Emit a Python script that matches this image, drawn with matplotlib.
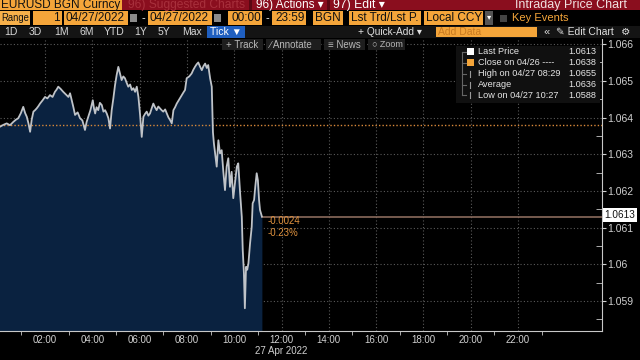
import matplotlib
matplotlib.use("Agg")
import matplotlib.pyplot as plt
from matplotlib.patches import Rectangle
from matplotlib.ticker import FixedLocator, MultipleLocator

plt.rcParams['font.family'] = ['Liberation Sans', 'DejaVu Sans']

# ---------------- data ----------------
times_h = [0.00, 0.10, 0.24, 0.38, 0.52, 0.66, 0.77, 0.87, 0.98, 1.08, 1.16, 1.23, 1.30,
           1.37, 1.44, 1.51, 1.58, 1.65, 1.72, 1.79, 1.90, 2.00, 2.10, 2.21, 2.32, 2.42,
           2.49, 2.56, 2.66, 2.77, 2.88, 2.99, 3.06, 3.13, 3.20, 3.27, 3.38, 3.48, 3.58,
           3.69, 3.76, 3.83, 3.92, 4.02, 4.07, 4.12, 4.18, 4.25, 4.32, 4.40, 4.47, 4.54,
           4.61, 4.68, 4.75, 4.82, 4.89, 4.96, 5.03, 5.10, 5.17, 5.24, 5.31, 5.38, 5.45,
           5.52, 5.60, 5.67, 5.74, 5.81, 5.88, 5.95, 6.02, 6.09, 6.16, 6.23, 6.30, 6.37,
           6.44, 6.51, 6.58, 6.65, 6.72, 6.79, 6.86, 6.93, 7.00, 7.08, 7.15, 7.22, 7.29,
           7.36, 7.43, 7.50, 7.57, 7.68, 7.78, 7.85, 7.92, 7.99, 8.10, 8.20, 8.27, 8.34,
           8.41, 8.48, 8.56, 8.63, 8.70, 8.77, 8.84, 8.90, 8.98, 9.05, 9.10, 9.14, 9.19,
           9.26, 9.33, 9.40, 9.47, 9.54, 9.61, 9.68, 9.75, 9.82, 9.89, 9.96, 10.03, 10.11,
           10.17, 10.25, 10.32, 10.36, 10.41, 10.45, 10.50, 10.55, 10.60, 10.67, 10.74,
           10.78, 10.84, 10.89, 10.95, 11.00, 11.05, 11.09, 11.13, 11.17]
prices = [1.06372, 1.06375, 1.06380, 1.06384, 1.06379, 1.06388, 1.06394, 1.06398, 1.06412,
          1.06429, 1.06412, 1.06402, 1.06384, 1.06361, 1.06395, 1.06416, 1.06420, 1.06425,
          1.06431, 1.06438, 1.06447, 1.06456, 1.06452, 1.06461, 1.06456, 1.06470, 1.06476,
          1.06484, 1.06478, 1.06470, 1.06463, 1.06456, 1.06466, 1.06447, 1.06428, 1.06407,
          1.06414, 1.06398, 1.06392, 1.06366, 1.06388, 1.06402, 1.06420, 1.06447, 1.06425,
          1.06411, 1.06428, 1.06420, 1.06440, 1.06434, 1.06416, 1.06420, 1.06411, 1.06398,
          1.06370, 1.06420, 1.06452, 1.06488, 1.06516, 1.06538, 1.06520, 1.06502, 1.06512,
          1.06507, 1.06495, 1.06484, 1.06490, 1.06475, 1.06480, 1.06470, 1.06484, 1.06456,
          1.06407, 1.06347, 1.06402, 1.06410, 1.06416, 1.06405, 1.06411, 1.06425, 1.06438,
          1.06428, 1.06420, 1.06430, 1.06425, 1.06420, 1.06416, 1.06422, 1.06411, 1.06400,
          1.06393, 1.06384, 1.06420, 1.06428, 1.06438, 1.06450, 1.06461, 1.06468, 1.06475,
          1.06507, 1.06512, 1.06520, 1.06530, 1.06538, 1.06545, 1.06550, 1.06538, 1.06529,
          1.06540, 1.06547, 1.06535, 1.06543, 1.06507, 1.06484, 1.06360, 1.06330, 1.06303,
          1.06266, 1.06338, 1.06302, 1.06311, 1.06252, 1.06202, 1.06266, 1.06289, 1.06211,
          1.06252, 1.06180, 1.06220, 1.06266, 1.06275, 1.06193, 1.06129, 1.06039, 1.05976,
          1.05880, 1.05993, 1.05985, 1.06002, 1.06057, 1.06102, 1.06166, 1.06175, 1.06211,
          1.06248, 1.06229, 1.06175, 1.06148, 1.06139, 1.06130]

prev_close = 1.0638
last_price = 1.0613
net_change = "-0.0024"
pct_change = "-0.23%"
x_tick_hours = [2, 4, 6, 8, 10, 12, 14, 16, 18, 20, 22]
x_tick_labels = ["02:00", "04:00", "06:00", "08:00", "10:00", "12:00", "14:00",
                 "16:00", "18:00", "20:00", "22:00"]
y_ticks = [1.059, 1.060, 1.061, 1.062, 1.063, 1.064, 1.065, 1.066]
y_tick_labels = ["1.059", "1.06", "1.061", "1.062", "1.063", "1.064", "1.065", "1.066"]
legend_names = ["Last Price", "Close on 04/26 ----", "High on 04/27 08:29", "Average",
                "Low on 04/27 10:27"]
legend_values = ["1.0613", "1.0638", "1.0655", "1.0636", "1.0588"]

# ---------------- figure ----------------
W, H = 640, 360
fig = plt.figure(figsize=(6.4, 3.6), dpi=100, facecolor='black')
renderer = fig.canvas.get_renderer()

ax = fig.add_axes([0, 1 - 331 / H, 602 / W, (331 - 39) / H])
ax.set_facecolor('black')
ax.set_xlim(0.097, 25.55)
ax.set_ylim(1.05818, 1.06614)

grid_c = '#5a5a5a'
for yv in y_ticks:
    ax.axhline(yv, color=grid_c, lw=0.8, ls=(0, (1, 2)), zorder=1)
for xv in x_tick_hours:
    ax.axvline(xv, color=grid_c, lw=0.8, ls=(0, (1, 2)), zorder=1)

ax.fill_between(times_h, prices, 1.05818, color='#0a2240', zorder=2, lw=0)
ax.plot(times_h, prices, color='#bfc3c8', lw=1.3, zorder=4)
ax.axhline(prev_close, color='#d9893a', lw=1.0, ls=(0, (1, 1.5)), zorder=3)
ax.plot([times_h[-1], 25.55], [last_price, last_price], color='#8a6a5c', lw=1.2, zorder=3)

ax.text(times_h[-1] + 0.25, last_price - 0.00012, net_change, color='#e0923e',
        fontsize=7, va='center', ha='left', zorder=5)
ax.text(times_h[-1] + 0.25, last_price - 0.00046, pct_change, color='#e0923e',
        fontsize=7, va='center', ha='left', zorder=5)

for s in ['top', 'left']:
    ax.spines[s].set_visible(False)
ax.spines['right'].set_color('#c8c8c8')
ax.spines['bottom'].set_color('#c8c8c8')

ax.yaxis.tick_right()
ax.set_yticks(y_ticks)
ax.set_yticklabels(y_tick_labels)
ax.yaxis.set_minor_locator(MultipleLocator(0.0005))
ax.tick_params(axis='y', which='major', direction='out', length=3, colors='#d0d0d0',
               labelsize=7.5, pad=1)
ax.tick_params(axis='y', which='minor', direction='in', length=4, colors='#c8c8c8')

ax.set_xticks(x_tick_hours)
ax.set_xticklabels(x_tick_labels)
ax.xaxis.set_minor_locator(FixedLocator([1, 3, 5, 7, 9, 11, 13, 15, 17, 19, 21, 23]))
ax.tick_params(axis='x', which='major', length=0, colors='#d0d0d0', labelsize=7, pad=3)
ax.tick_params(axis='x', which='minor', direction='out', length=3, colors='#c8c8c8')
ax.text(12, -0.052, "27 Apr 2022", transform=ax.get_xaxis_transform(), color='#d0d0d0',
        fontsize=7, ha='center', va='top')

# ---------------- overlay (terminal UI) in pixel coordinates ----------------
ov = fig.add_axes([0, 0, 1, 1], zorder=10)
ov.set_xlim(0, W)
ov.set_ylim(H, 0)
ov.axis('off')
ov.patch.set_alpha(0)

ORANGE = '#f4a53a'
RED = '#8a0e1e'


def box(x0, x1, y0, y1, color, **kw):
    ov.add_patch(Rectangle((x0, y0), x1 - x0, y1 - y0, facecolor=color, lw=0, **kw))


def txt(x, y, s, color, size, ha='left', maxw=None, **kw):
    t = ov.text(x, y, s, color=color, fontsize=size, ha=ha, va='center', **kw)
    if maxw is not None:
        w = t.get_window_extent(renderer=renderer).width
        if w > maxw:
            t.set_fontsize(size * maxw / w)
    return t


# row 1
box(0, 640, 0, 10, RED)
box(0, 122, 0, 10, ORANGE)
box(249, 252, 0, 10, '#5a0712')
box(327, 330, 0, 10, '#5a0712')
txt(1, 4.8, "EURUSD BGN Curncy", '#111111', 9, maxw=119)
txt(128, 4.8, "96) Suggested Charts", '#a8303c', 9, maxw=118)
txt(256, 4.8, "96) Actions \u25be", 'white', 9, maxw=68)
txt(333, 4.8, "97) Edit \u25be", 'white', 9, maxw=52)
txt(627, 4.8, "Intraday Price Chart", '#f0e0e0', 9, ha='right', maxw=122)

# row 2
r2a, r2b = 11, 25
box(0, 30, r2a, r2b, '#f7b04a')
txt(1, 18, "Range", '#111111', 8.5, maxw=28)
box(33, 62, r2a, r2b, ORANGE)
txt(60, 18, "1", '#111111', 8.5, ha='right')
box(64, 128, r2a, r2b, ORANGE)
txt(66, 18, "04/27/2022", '#111111', 8.5, maxw=61)
box(130, 137, 14, 22, '#8a8a8a')
txt(142, 18, "-", 'white', 8)
box(148, 212, r2a, r2b, ORANGE)
txt(150, 18, "04/27/2022", '#111111', 8.5, maxw=61)
box(214, 221, 14, 22, '#8a8a8a')
box(228, 262, r2a, r2b, ORANGE)
txt(231, 18, "00:00", '#111111', 8.5, maxw=30)
txt(265, 18, "-", 'white', 8)
box(272, 306, r2a, r2b, ORANGE)
txt(275, 18, "23:59", '#111111', 8.5, maxw=30)
box(313, 343, r2a, r2b, ORANGE)
txt(315, 18, "BGN", '#111111', 8.5, maxw=26)
box(349, 421, r2a, r2b, ORANGE)
txt(351, 18, "Lst Trd/Lst P.", '#111111', 8.5, maxw=69)
box(424, 483, r2a, r2b, ORANGE)
txt(426, 18, "Local CCY", '#111111', 8.5, maxw=56)
box(485, 493, r2a, r2b, '#555555')
txt(489, 18, "\u25be", 'white', 6, ha='center')
box(500, 507, 14.5, 21.5, '#444444')
txt(512, 18, "Key Events", ORANGE, 8.5, maxw=56)

# row 3
box(0, 640, 26, 38, '#141414')
for lx, lab in zip([4, 29, 54, 79, 104, 134, 158, 182],
                   ["1D", "3D", "1M", "6M", "YTD", "1Y", "5Y", "Max"]):
    txt(lx, 31.8, lab, '#d8d8d8', 7.5)
box(207, 245, 26, 38, '#1f5fc0')
txt(210, 31.8, "Tick \u25bc", 'white', 7.5, maxw=33)
txt(358, 31.8, "+ Quick-Add \u25be", '#e0e0e0', 7.5, maxw=64)
box(436, 537, 27, 37, ORANGE)
txt(438, 31.8, "Add Data", '#c87a20', 7.5)
txt(543, 31.8, "\u00ab", '#e0e0e0', 8)
txt(556, 31.8, "\u270e Edit Chart", '#e0e0e0', 7.5, maxw=58)
txt(626, 31.8, "\u2699", '#e0e0e0', 7.5, ha='center')

# row 4 buttons
for bx0, bx1, lab in [(222, 263, "+ Track"), (266, 321, "\u2215 Annotate"),
                      (324, 365, "\u2261 News"), (368, 405, "\u25cb Zoom")]:
    box(bx0, bx1, 39, 50, '#1e1e1e')
    txt(bx0 + 4, 44.5, lab, '#b8b8b8', 7, maxw=bx1 - bx0 - 6)

# legend box
box(456, 600, 46, 103, '#101010')
ov.plot([462, 462], [52, 95], color='#666666', lw=0.8)
swatches = ['white', ORANGE, None, None, None]
rows_y = [51.5, 62.5, 73.5, 84.5, 95]
for yy, name, val, sw in zip(rows_y, legend_names, legend_values, swatches):
    ov.plot([462, 466], [yy, yy], color='#666666', lw=0.8)
    if sw is not None:
        box(467, 474, yy - 3.5, yy + 3.5, sw)
    else:
        ov.plot([470, 470], [yy - 3, yy + 3], color='#999999', lw=0.8)
    txt(478, yy, name, '#e6e6e6', 6.6)
    txt(596, yy, val, '#e6e6e6', 6.6, ha='right')

# last price tag on axis
box(603, 637, 208, 222, 'white')
txt(620, 215, "1.0613", '#111111', 7.2, ha='center', maxw=32)

fig.savefig("out.png", dpi=100, facecolor='black')
